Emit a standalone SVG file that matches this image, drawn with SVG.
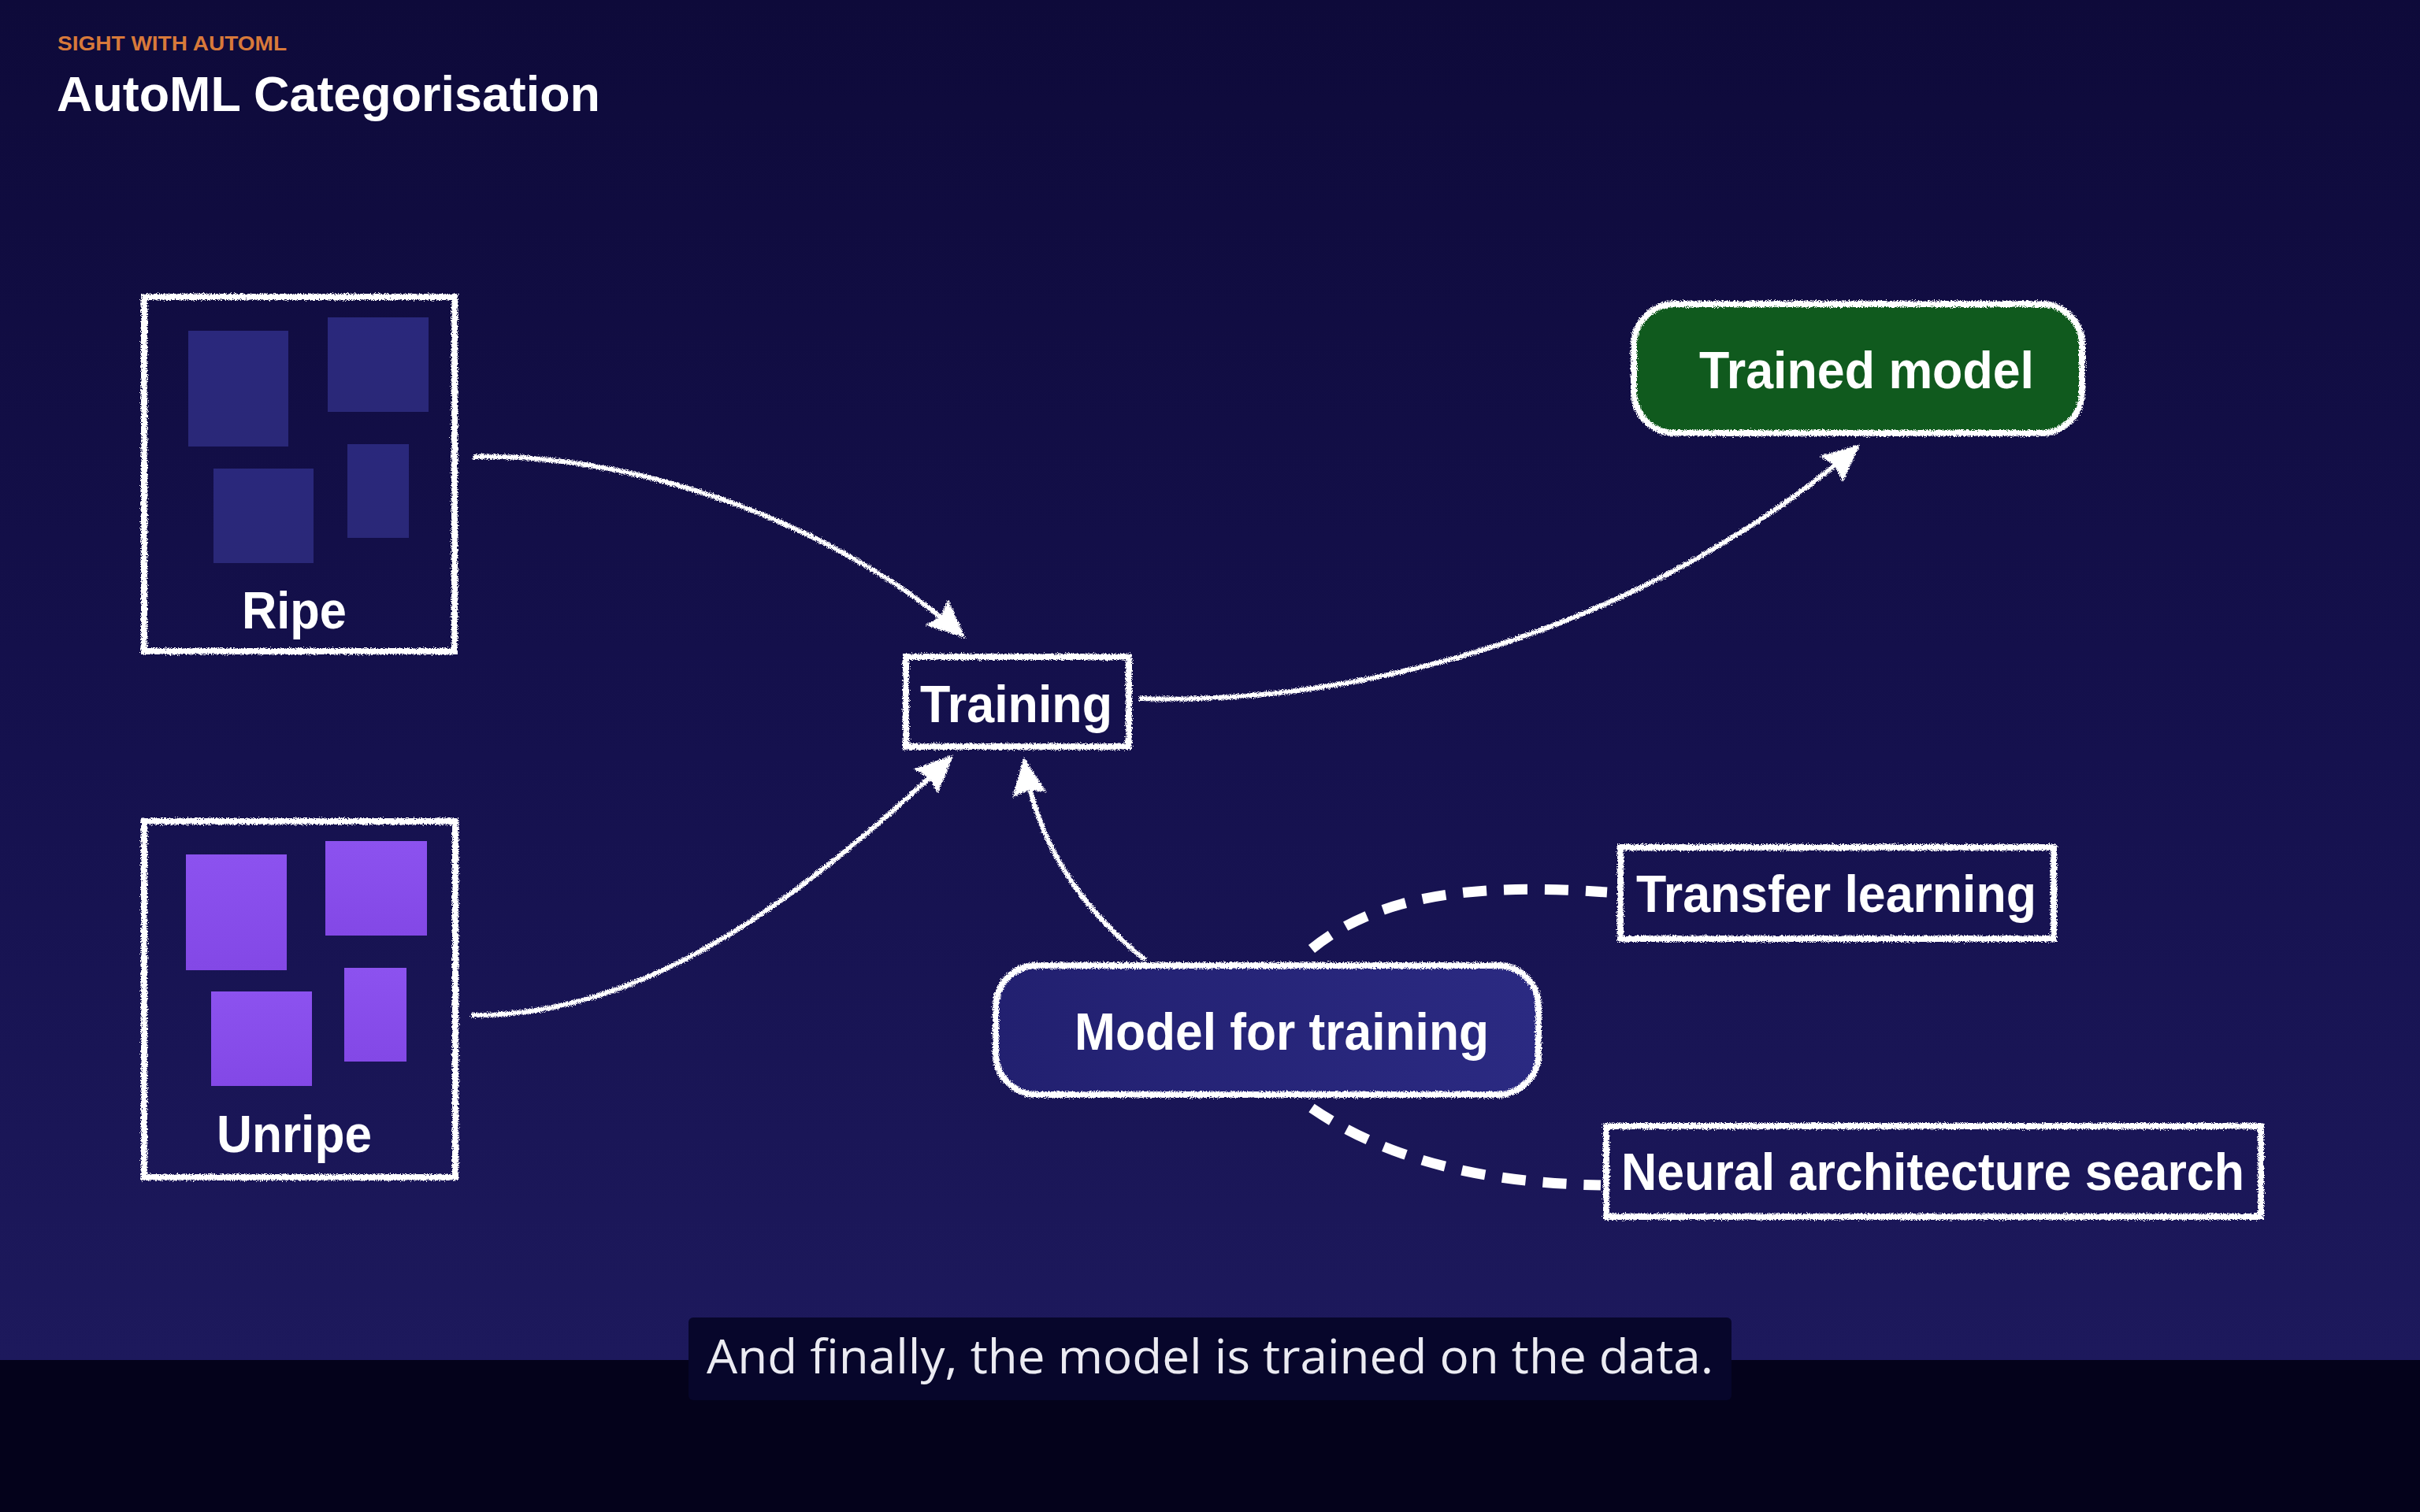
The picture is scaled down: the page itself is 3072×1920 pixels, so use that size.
<svg xmlns="http://www.w3.org/2000/svg" width="3072" height="1920" viewBox="0 0 3072 1920">
<defs>
<linearGradient id="bg" x1="0" y1="0" x2="0" y2="1">
<stop offset="0" stop-color="#0e0a3a"/>
<stop offset="0.5" stop-color="#15114e"/>
<stop offset="1" stop-color="#1f1b60"/>
</linearGradient>
<linearGradient id="mft" x1="0" y1="0" x2="1" y2="0">
<stop offset="0" stop-color="#222070"/>
<stop offset="1" stop-color="#2b2a82"/>
</linearGradient>
<linearGradient id="ripeSq" x1="0" y1="0" x2="0" y2="1">
<stop offset="0" stop-color="#2a287c"/>
<stop offset="1" stop-color="#2a2878"/>
</linearGradient>
<linearGradient id="unripeSq" x1="0" y1="0" x2="0" y2="1">
<stop offset="0" stop-color="#8c52ef"/>
<stop offset="1" stop-color="#8348e6"/>
</linearGradient>
<filter id="chalk" filterUnits="userSpaceOnUse" x="0" y="0" width="3072" height="1920">
<feTurbulence type="fractalNoise" baseFrequency="1.4" numOctaves="2" seed="4" result="n"/>
<feDisplacementMap in="SourceGraphic" in2="n" scale="7" xChannelSelector="R" yChannelSelector="G"/>
</filter>
<marker id="ah" viewBox="0 0 46 46" refX="42" refY="23" markerWidth="48" markerHeight="48" markerUnits="userSpaceOnUse" orient="auto">
<path d="M0,2 L46,23 L0,44 L6,23 z" fill="#ffffff"/>
</marker>
<style>
.chalk{fill:none;stroke:#ffffff;stroke-width:8;filter:url(#chalk)}
.conn{fill:none;stroke:#ffffff;stroke-width:6;filter:url(#chalk)}
.dash{fill:none;stroke:#ffffff;stroke-width:13;stroke-dasharray:30 22;stroke-linecap:butt}
.lbl{font-family:"Liberation Sans",Arial,sans-serif;font-weight:bold;font-size:67px;fill:#ffffff}
</style>
</defs>
<rect x="0" y="0" width="3072" height="1920" fill="url(#bg)"/>
<rect x="0" y="1727" width="3072" height="193" fill="#04021b"/>

<g id="header">
<text x="73" y="64" font-family="'Liberation Sans',Arial,sans-serif" font-weight="bold" font-size="25" fill="#d8793a" textLength="291" lengthAdjust="spacingAndGlyphs">SIGHT WITH AUTOML</text>
<text x="72" y="141" font-family="'Liberation Sans',Arial,sans-serif" font-weight="bold" font-size="63" fill="#ffffff" textLength="690" lengthAdjust="spacingAndGlyphs">AutoML Categorisation</text>
</g>

<g id="connectors">
<path class="conn" d="M600,580 C830,575 1080,680 1222,807" marker-end="url(#ah)"/>
<path class="conn" d="M598,1289 C810,1292 1010,1150 1207,962" marker-end="url(#ah)"/>
<path class="conn" d="M1454,1219 C1380,1160 1318,1080 1300,966" marker-end="url(#ah)"/>
<path class="conn" d="M1446,887 C1760,897 2110,780 2358,567" marker-end="url(#ah)"/>
<path class="dash" d="M1665,1205 C1745,1140 1860,1120 2040,1133"/>
<path class="dash" d="M1665,1407 C1760,1472 1880,1502 2032,1505"/>
</g>

<g id="ripe">
<rect x="239" y="420" width="127" height="147" fill="url(#ripeSq)"/>
<rect x="416" y="403" width="128" height="120" fill="url(#ripeSq)"/>
<rect x="271" y="595" width="127" height="120" fill="url(#ripeSq)"/>
<rect x="441" y="564" width="78" height="119" fill="url(#ripeSq)"/>
<rect class="chalk" x="183" y="377" width="394" height="450"/>
<text class="lbl" x="307" y="798" textLength="133" lengthAdjust="spacingAndGlyphs">Ripe</text>
</g>

<g id="unripe">
<rect x="236" y="1085" width="128" height="147" fill="url(#unripeSq)"/>
<rect x="413" y="1068" width="129" height="120" fill="url(#unripeSq)"/>
<rect x="268" y="1259" width="128" height="120" fill="url(#unripeSq)"/>
<rect x="437" y="1229" width="79" height="119" fill="url(#unripeSq)"/>
<rect class="chalk" x="183" y="1043" width="395" height="452"/>
<text class="lbl" x="275" y="1463" textLength="197" lengthAdjust="spacingAndGlyphs">Unripe</text>
</g>

<g id="training">
<rect class="chalk" x="1150" y="834" width="283" height="114"/>
<text class="lbl" x="1168" y="917" textLength="244" lengthAdjust="spacingAndGlyphs">Training</text>
</g>

<g id="trained-model">
<rect x="2074" y="386" width="569" height="164" rx="52" fill="#105a1e"/>
<rect class="chalk" x="2074" y="386" width="569" height="164" rx="52"/>
<text class="lbl" x="2157" y="493" textLength="425" lengthAdjust="spacingAndGlyphs">Trained model</text>
</g>

<g id="model-for-training">
<rect x="1264" y="1226" width="689" height="164" rx="52" fill="url(#mft)"/>
<rect class="chalk" x="1264" y="1226" width="689" height="164" rx="52"/>
<text class="lbl" x="1364" y="1333" textLength="526" lengthAdjust="spacingAndGlyphs">Model for training</text>
</g>

<g id="transfer-learning">
<rect class="chalk" x="2057" y="1076" width="550" height="116"/>
<text class="lbl" x="2077" y="1158" textLength="508" lengthAdjust="spacingAndGlyphs">Transfer learning</text>
</g>

<g id="nas">
<rect class="chalk" x="2039" y="1430" width="831" height="115"/>
<text class="lbl" x="2058" y="1511" textLength="791" lengthAdjust="spacingAndGlyphs">Neural architecture search</text>
</g>

<g id="subtitle">
<rect x="874" y="1673" width="1324" height="105" rx="6" fill="#07062b"/>
<text x="897" y="1744" font-family="'Open Sans',Lato,sans-serif" font-size="60" fill="#ebebf2" textLength="1278" lengthAdjust="spacingAndGlyphs">And finally, the model is trained on the data.</text>
</g>
</svg>
